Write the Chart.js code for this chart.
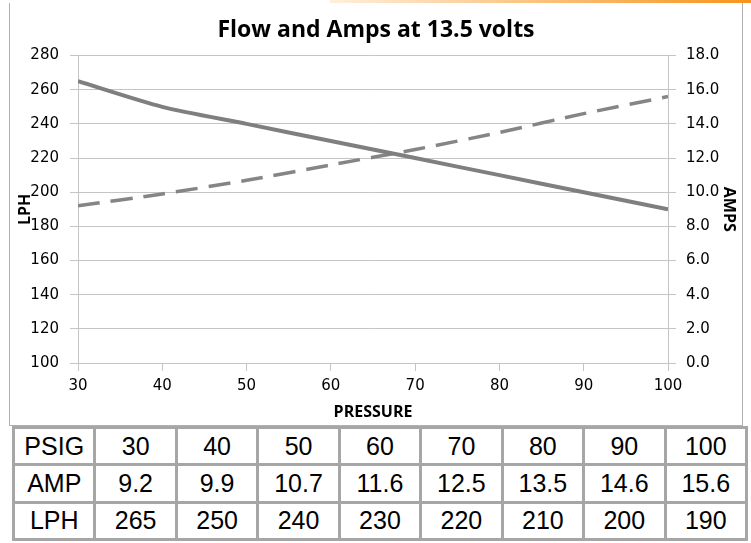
<!DOCTYPE html>
<html>
<head>
<meta charset="utf-8">
<script src="https://cdn.jsdelivr.net/npm/chart.js@4"></script>
<style>
  body { margin: 0; background: #fff; width: 751px; height: 543px; overflow: hidden; position: relative; }
  #bar { position: absolute; left: 330px; top: 0; width: 421px; height: 3px;
         background: linear-gradient(to right, rgba(247,148,29,0.15), #f7941d); }
  #frame { position: absolute; left: 9px; top: 3px; width: 732px; height: 422px;
           border-left: 1px solid #b0b0b0; border-right: 1px solid #b0b0b0; border-bottom: 1px solid #b0b0b0; }
  #chart { position: absolute; left: 0; top: 0; }
  #tbl { position: absolute; left: 12px; top: 426px; width: 736px; height: 115px;
         border-collapse: collapse; table-layout: fixed;
         font-family: "Liberation Sans", Arial, sans-serif; font-size: 25px; color: #000; }
  #tbl td { border: 3px solid #a6a6a6; text-align: center; padding: 0; }
</style>
</head>
<body>
<div id="bar"></div>
<div id="frame"><canvas id="chart" width="732" height="422"></canvas></div>
<table id="tbl"></table>
<script>
// datos
const pressure = [30, 40, 50, 60, 70, 80, 90, 100];
const amps = [9.2, 9.9, 10.7, 11.6, 12.5, 13.5, 14.6, 15.6];
const lph = [265, 250, 240, 230, 220, 210, 200, 190];

// marcas de los ejes
const psiTicks = [30, 40, 50, 60, 70, 80, 90, 100];
const lphTicks = [100, 120, 140, 160, 180, 200, 220, 240, 260, 280];
const ampTicks = [0, 2, 4, 6, 8, 10, 12, 14, 16, 18];

// tabla de abajo
const rows = [["PSIG", pressure], ["AMP", amps.map(v => v.toFixed(1))], ["LPH", lph]];
const tbl = document.getElementById("tbl");
rows.forEach(r => {
  const tr = document.createElement("tr");
  [r[0]].concat(r[1]).forEach(v => {
    const td = document.createElement("td");
    td.textContent = v;
    tr.appendChild(td);
  });
  tbl.appendChild(tr);
});

const gridColor = "#c4c4c4";
const tickFont = { family: "DejaVu Sans", size: 15 };
const boldFont = { family: "Open Sans", size: 16, weight: "bold" };

const ctx = document.getElementById("chart").getContext("2d");
new Chart(ctx, {
  type: "line",
  data: {
    datasets: [{
      label: "LPH",
      data: pressure.map((p, i) => ({ x: p, y: lph[i] })),
      yAxisID: "y",
      borderColor: "#7f7f7f",
      borderWidth: 4,
      pointRadius: 0,
      tension: 0.25,
    }, {
      label: "AMPS",
      data: pressure.map((p, i) => ({ x: p, y: amps[i] })),
      yAxisID: "y1",
      borderColor: "#858585",
      borderWidth: 3.5,
      borderDash: [22, 11],
      pointRadius: 0,
      tension: 0.25,
    }],
  },
  options: {
    responsive: false,
    animation: false,
    devicePixelRatio: 1,
    layout: { padding: 0 },
    plugins: {
      legend: { display: false },
      tooltip: { enabled: false },
      title: {
        display: true,
        text: "Flow and Amps at 13.5 volts",
        color: "#000",
        font: { family: "Open Sans", size: 23, weight: "bold" },
        padding: { top: 14, bottom: 11 },
      },
    },
    scales: {
      x: {
        type: "linear",
        min: 30, max: 100,
        afterBuildTicks: s => { s.ticks = psiTicks.map(v => ({ value: v })); },
        afterFit: s => { s.height = 62; },
        grid: { drawOnChartArea: false, color: gridColor, tickLength: 8 },
        border: { color: gridColor },
        ticks: { color: "#000", font: tickFont, padding: 6 },
        title: { display: true, text: "PRESSURE", color: "#000", font: boldFont, padding: { top: 0, bottom: 3 } },
      },
      y: {
        position: "left",
        min: 100, max: 280,
        afterBuildTicks: s => { s.ticks = lphTicks.map(v => ({ value: v })); },
        afterFit: s => { s.width = 68; },
        grid: { color: gridColor, tickLength: 8 },
        border: { color: gridColor },
        ticks: { color: "#000", font: tickFont, padding: 11 },
        title: { display: true, text: "LPH", color: "#000", font: boldFont, padding: { top: 6, bottom: 0 } },
      },
      y1: {
        position: "right",
        min: 0, max: 18,
        afterBuildTicks: s => { s.ticks = ampTicks.map(v => ({ value: v })); },
        afterFit: s => { s.width = 74; },
        grid: { drawOnChartArea: false, color: gridColor, tickLength: 8 },
        border: { color: gridColor },
        ticks: { color: "#000", font: tickFont, padding: 10, callback: v => v.toFixed(1) },
        title: { display: true, text: "AMPS", color: "#000", font: boldFont, padding: { top: 4, bottom: 0 } },
      },
    },
  },
});
</script>
</body>
</html>
